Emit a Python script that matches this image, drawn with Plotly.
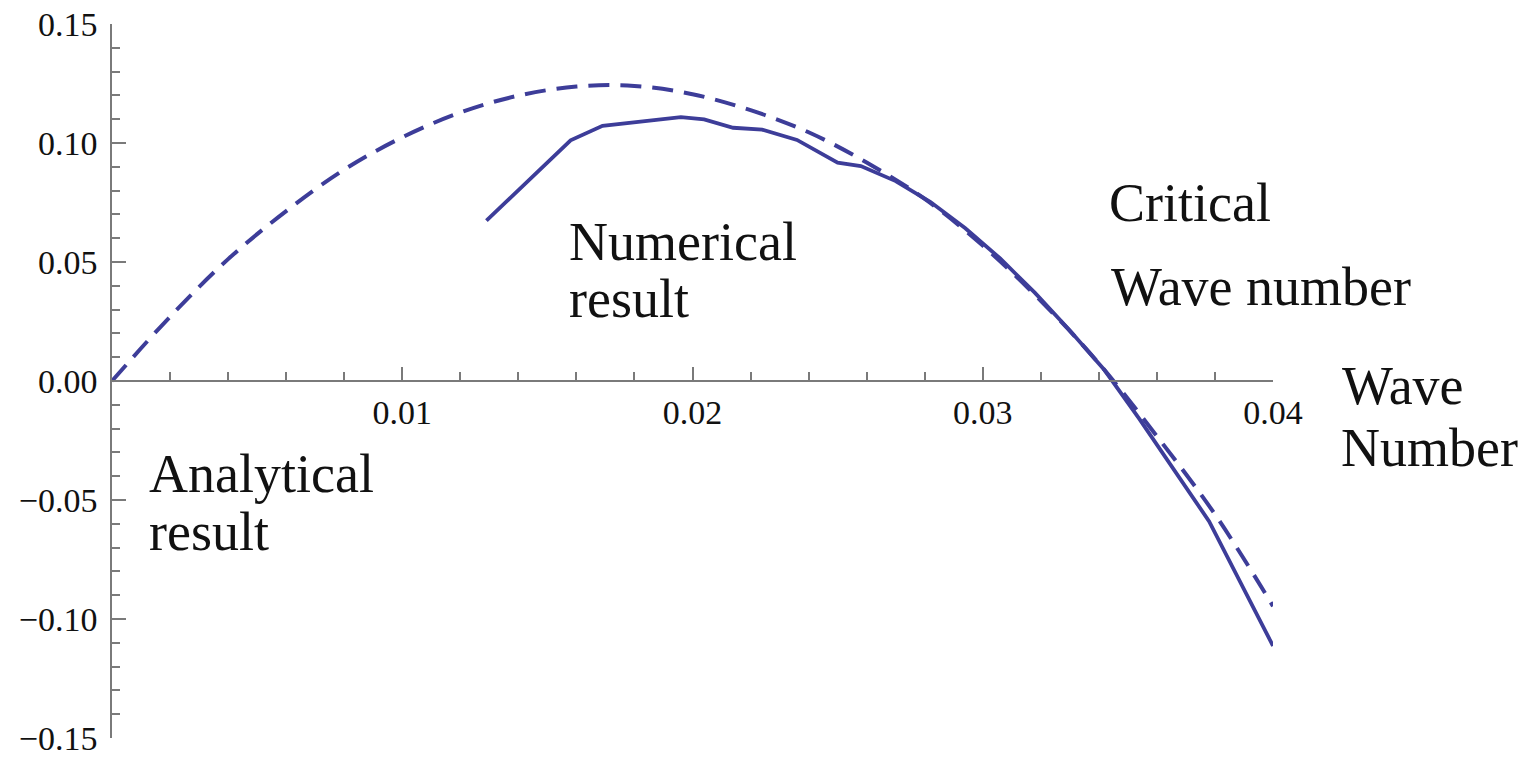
import plotly.graph_objects as go

# Analytical growth rate (dashed curve)
k_analytic = [0.000, 0.002, 0.004, 0.006, 0.008, 0.010, 0.012, 0.014, 0.016, 0.018,
              0.020, 0.022, 0.024, 0.026, 0.028, 0.030, 0.032, 0.034, 0.036, 0.038, 0.040]
g_analytic = [0.0000, 0.0270, 0.0512, 0.0714, 0.0888, 0.1024, 0.1128, 0.1199, 0.1237, 0.1240,
              0.1205, 0.1138, 0.1045, 0.0918, 0.0765, 0.0569, 0.0337, 0.0074, -0.0232, -0.0560, -0.0946]

# Numerical growth rate (solid curve)
k_numeric = [0.0129, 0.0158, 0.0169, 0.0196, 0.0204, 0.0214, 0.0224, 0.0236, 0.0250, 0.0258,
             0.0270, 0.0282, 0.0294, 0.0306, 0.0318, 0.0330, 0.0342, 0.0354, 0.0378, 0.0400]
g_numeric = [0.0674, 0.1011, 0.1072, 0.1109, 0.1099, 0.1064, 0.1056, 0.1013, 0.0917, 0.0903,
             0.0840, 0.0752, 0.0642, 0.0515, 0.0370, 0.0212, 0.0045, -0.0160, -0.0590, -0.1113]

x_tickvals = [0.01, 0.02, 0.03, 0.04]
x_ticktext = ["0.01", "0.02", "0.03", "0.04"]
x_minor = [0.002, 0.004, 0.006, 0.008, 0.012, 0.014, 0.016, 0.018, 0.022, 0.024, 0.026,
           0.028, 0.032, 0.034, 0.036, 0.038]
y_tickvals = [-0.15, -0.10, -0.05, 0.0, 0.05, 0.10, 0.15]
y_ticktext = ["\u22120.15", "\u22120.10", "\u22120.05", "0.00", "0.05", "0.10", "0.15"]
y_minor = [-0.14, -0.13, -0.12, -0.11, -0.09, -0.08, -0.07, -0.06, -0.04, -0.03, -0.02, -0.01,
           0.01, 0.02, 0.03, 0.04, 0.06, 0.07, 0.08, 0.09, 0.11, 0.12, 0.13, 0.14]

LINE = "#3d3d99"
AXIS = "#7a7a7a"
SERIF = "Liberation Serif, Times New Roman, serif"

fig = go.Figure()
fig.add_trace(go.Scatter(x=k_analytic, y=g_analytic, mode="lines",
                         line=dict(color=LINE, width=4, dash="21px,11px", shape="spline"),
                         showlegend=False, hoverinfo="skip"))
fig.add_trace(go.Scatter(x=k_numeric, y=g_numeric, mode="lines",
                         line=dict(color=LINE, width=3.8),
                         showlegend=False, hoverinfo="skip"))

# Text labels placed in paper coordinates (left edge, vertical centre)
labels = [
    ("Numerical", 0.3928, 0.6950),
    ("result", 0.3928, 0.6151),
    ("Critical", 0.8579, 0.7486),
    ("Wave number", 0.8596, 0.6319),
    ("Wave", 1.0586, 0.4933),
    ("Number", 1.0577, 0.4064),
    ("Analytical", 0.0310, 0.3700),
    ("result", 0.0310, 0.2888),
]
for text, x, y in labels:
    fig.add_annotation(x=x, y=y, xref="paper", yref="paper", text=text, showarrow=False,
                       xanchor="left", yanchor="middle", borderpad=0,
                       font=dict(family=SERIF, size=54, color="#111111"))

fig.update_layout(
    width=1525, height=758,
    margin=dict(l=112, r=252, t=24, b=20),
    paper_bgcolor="white", plot_bgcolor="white",
    font=dict(family=SERIF, size=34, color="#111111"),
    xaxis=dict(range=[0, 0.04], anchor="free", position=0.5, automargin=False,
               showgrid=False, zeroline=False, showline=True, linecolor=AXIS, linewidth=1.5,
               tickmode="array", tickvals=x_tickvals, ticktext=x_ticktext,
               ticks="inside", ticklen=13, tickwidth=1.5, tickcolor=AXIS,
               ticklabelstandoff=1,
               minor=dict(tickmode="array", tickvals=x_minor, ticks="inside",
                          ticklen=8, tickwidth=1.5, tickcolor=AXIS),
               tickfont=dict(family=SERIF, size=34, color="#111111")),
    yaxis=dict(range=[-0.15, 0.15], automargin=False,
               showgrid=False, zeroline=False, showline=True, linecolor=AXIS, linewidth=1.5,
               tickmode="array", tickvals=y_tickvals, ticktext=y_ticktext,
               ticks="inside", ticklen=14, tickwidth=1.5, tickcolor=AXIS,
               ticklabelstandoff=6,
               minor=dict(tickmode="array", tickvals=y_minor, ticks="inside",
                          ticklen=8, tickwidth=1.5, tickcolor=AXIS),
               tickfont=dict(family=SERIF, size=34, color="#111111")),
)

fig.write_html("out.html")
